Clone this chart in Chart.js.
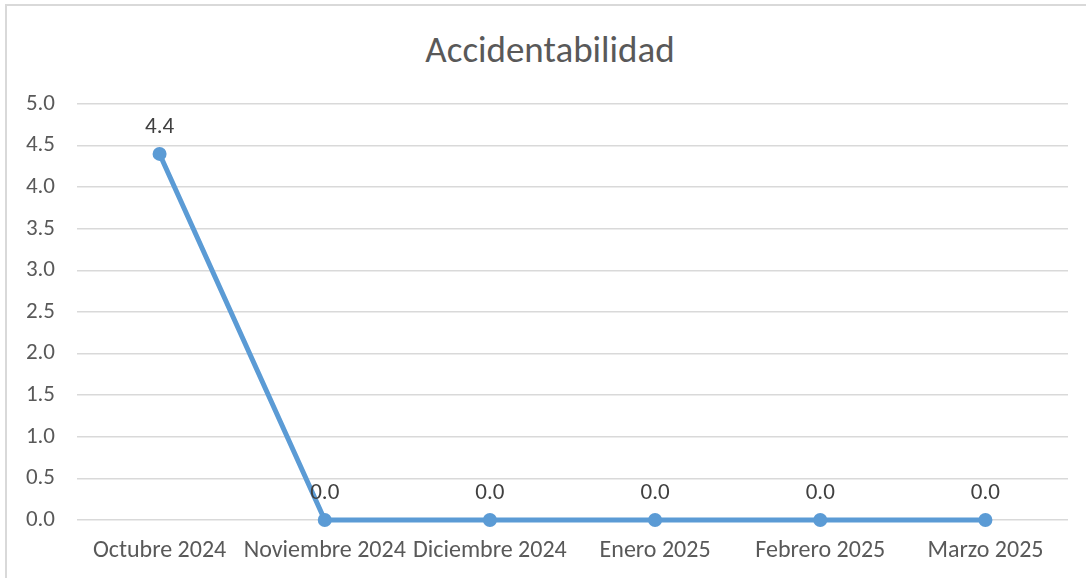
<!DOCTYPE html>
<html>
<head>
<meta charset="utf-8">
<script src="https://cdn.jsdelivr.net/npm/chart.js@4.4.1/dist/chart.umd.min.js"></script>
<style>
  html, body { margin: 0; padding: 0; background: #fff; }
  #wrap { position: relative; width: 1086px; height: 578px; overflow: hidden; }
  #frame {
    position: absolute; left: 5px; top: 4px; right: -10px; bottom: -10px;
    border-left: 2px solid #d9d9d9; border-top: 2px solid #d9d9d9;
  }
  #title {
    position: absolute; left: 0; top: 28px; width: 1100px; text-align: center;
    font: 37px Carlito, Lato, sans-serif; line-height: 44px; color: #595959;
  }
  canvas { position: absolute; left: 0; top: 0; }
</style>
</head>
<body>
<div id="wrap">
  <div id="frame"></div>
  <div id="title">Accidentabilidad</div>
  <canvas id="chart" width="1086" height="578"></canvas>
</div>
<script>
// --- data ---
const months = ['Octubre 2024', 'Noviembre 2024', 'Diciembre 2024', 'Enero 2025', 'Febrero 2025', 'Marzo 2025'];
const accidentRate = [4.4, 0.0, 0.0, 0.0, 0.0, 0.0];
const yMin = 0;
const yMax = 5;
const yStep = 0.5;

const FONT = 'Carlito, Lato, sans-serif';

// simple value labels above each point (no datalabels plugin available offline)
const pointLabels = {
    id: 'pointLabels',
    afterDatasetsDraw(chart) {
        const ctx = chart.ctx;
        const meta = chart.getDatasetMeta(0);
        ctx.save();
        ctx.font = '23px ' + FONT;
        ctx.fillStyle = '#404040';
        ctx.textAlign = 'center';
        ctx.textBaseline = 'middle';
        meta.data.forEach((pt, i) => {
            ctx.fillText(accidentRate[i].toFixed(1), pt.x, pt.y - 27);
        });
        ctx.restore();
    }
};

new Chart(document.getElementById('chart'), {
    type: 'line',
    data: {
        labels: months,
        datasets: [{
            data: accidentRate,
            borderColor: '#5b9bd5',
            backgroundColor: '#5b9bd5',
            borderWidth: 5,
            pointRadius: 7,
            pointHoverRadius: 7,
            pointBorderWidth: 0,
            tension: 0,
            clip: false
        }]
    },
    options: {
        responsive: false,
        animation: false,
        // top padding leaves room for the html title above the plot
        layout: { padding: { left: 8, right: 18, top: 104, bottom: 0 } },
        plugins: {
            legend: { display: false },
            tooltip: { enabled: false },
            title: { display: false }
        },
        scales: {
            x: {
                offset: true,
                grid: { display: false, drawTicks: false },
                border: { display: false },
                ticks: {
                    color: '#595959',
                    font: { family: FONT, size: 24 },
                    padding: 17,
                    maxRotation: 0,
                    autoSkip: false
                },
                afterFit(scale) { scale.height = 58; }
            },
            y: {
                min: yMin,
                max: yMax,
                grid: { color: '#d9d9d9', lineWidth: 1.5, drawTicks: false },
                border: { display: false },
                ticks: {
                    stepSize: yStep,
                    color: '#595959',
                    font: { family: FONT, size: 23 },
                    padding: 22,
                    callback: v => Number(v).toFixed(1)
                },
                afterFit(scale) { scale.width = 69; }
            }
        }
    },
    plugins: [pointLabels]
});
</script>
</body>
</html>
